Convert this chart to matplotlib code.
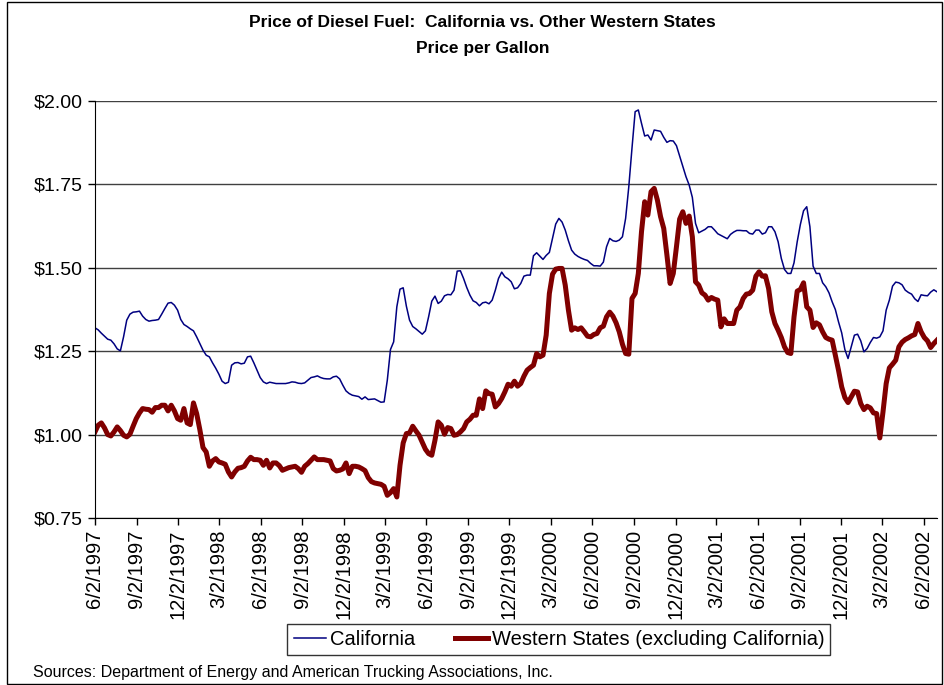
import pandas as pd
import matplotlib
matplotlib.use("Agg")
from matplotlib import pyplot as plt
from matplotlib.patches import Rectangle

plt.rcParams["font.family"] = ["Liberation Sans", "DejaVu Sans"]

# weekly prices, first week 6/2/1997
start_date = "1997-06-02"

california = [
    1.320, 1.314, 1.304, 1.295, 1.286, 1.283, 1.272, 1.257, 1.251, 1.293,
    1.343, 1.361, 1.367, 1.368, 1.370, 1.355, 1.345, 1.340, 1.342, 1.343,
    1.345, 1.361, 1.378, 1.394, 1.396, 1.388, 1.373, 1.345, 1.330, 1.324,
    1.317, 1.311, 1.293, 1.273, 1.253, 1.238, 1.233, 1.215, 1.199, 1.181,
    1.160, 1.153, 1.157, 1.208, 1.215, 1.216, 1.212, 1.214, 1.233, 1.235,
    1.215, 1.193, 1.171, 1.158, 1.153, 1.157, 1.155, 1.153, 1.153, 1.153,
    1.153, 1.155, 1.158, 1.157, 1.154, 1.153, 1.155, 1.163, 1.171, 1.173,
    1.176, 1.171, 1.168, 1.167, 1.167, 1.173, 1.175, 1.167, 1.148, 1.131,
    1.123, 1.118, 1.116, 1.114, 1.106, 1.113, 1.105, 1.106, 1.107, 1.102,
    1.097, 1.098, 1.163, 1.255, 1.278, 1.383, 1.436, 1.440, 1.385, 1.343,
    1.324, 1.317, 1.309, 1.301, 1.311, 1.353, 1.400, 1.415, 1.393, 1.400,
    1.416, 1.420, 1.419, 1.433, 1.490, 1.491, 1.468, 1.441, 1.418, 1.401,
    1.396, 1.386, 1.395, 1.397, 1.392, 1.403, 1.433, 1.468, 1.487, 1.473,
    1.467, 1.458, 1.437, 1.440, 1.453, 1.475, 1.478, 1.478, 1.536, 1.545,
    1.535, 1.525, 1.537, 1.546, 1.588, 1.631, 1.648, 1.637, 1.613, 1.581,
    1.553, 1.541, 1.534, 1.529, 1.525, 1.522, 1.513, 1.506, 1.506, 1.505,
    1.517, 1.563, 1.588, 1.581, 1.579, 1.583, 1.593, 1.648, 1.743, 1.858,
    1.968, 1.973, 1.933, 1.895, 1.898, 1.883, 1.913, 1.911, 1.909, 1.891,
    1.876, 1.881, 1.880, 1.866, 1.835, 1.805, 1.773, 1.748, 1.711, 1.633,
    1.605, 1.610, 1.615, 1.623, 1.623, 1.613, 1.602, 1.597, 1.592, 1.587,
    1.600, 1.607, 1.612, 1.612, 1.611, 1.611, 1.603, 1.601, 1.613, 1.613,
    1.601, 1.605, 1.623, 1.623, 1.608, 1.578, 1.528, 1.495, 1.483, 1.483,
    1.515, 1.578, 1.630, 1.671, 1.683, 1.623, 1.505, 1.483, 1.483, 1.455,
    1.443, 1.425, 1.398, 1.375, 1.338, 1.305, 1.255, 1.228, 1.263, 1.298,
    1.301, 1.281, 1.248, 1.258, 1.276, 1.291, 1.289, 1.293, 1.311, 1.373,
    1.403, 1.445, 1.457, 1.455, 1.449, 1.433, 1.426, 1.421, 1.407, 1.399,
    1.419, 1.417, 1.416, 1.427, 1.434, 1.428,
]

western = [
    1.008, 1.028, 1.035, 1.020, 1.000, 0.996, 1.008, 1.023, 1.012, 0.998,
    0.993, 1.001, 1.025, 1.048, 1.065, 1.078, 1.076, 1.075, 1.067, 1.081,
    1.081, 1.088, 1.088, 1.071, 1.088, 1.071, 1.048, 1.043, 1.078, 1.035,
    1.030, 1.095, 1.063, 1.015, 0.961, 0.948, 0.905, 0.921, 0.928, 0.918,
    0.915, 0.911, 0.888, 0.873, 0.888, 0.899, 0.901, 0.905, 0.921, 0.932,
    0.925, 0.925, 0.923, 0.908, 0.923, 0.900, 0.915, 0.915, 0.907, 0.893,
    0.897, 0.901, 0.903, 0.905, 0.898, 0.887, 0.905, 0.913, 0.923, 0.933,
    0.925, 0.925, 0.925, 0.923, 0.921, 0.898, 0.891, 0.893, 0.897, 0.915,
    0.883, 0.905, 0.905, 0.903, 0.898, 0.892, 0.871, 0.859, 0.855, 0.853,
    0.851, 0.845, 0.818, 0.826, 0.838, 0.813, 0.908, 0.975, 1.003, 1.005,
    1.025, 1.011, 0.998, 0.977, 0.956, 0.943, 0.938, 0.983, 1.038, 1.028,
    1.001, 1.021, 1.018, 0.998, 1.000, 1.008, 1.018, 1.038, 1.046, 1.058,
    1.058, 1.107, 1.078, 1.131, 1.123, 1.121, 1.083, 1.093, 1.108, 1.128,
    1.151, 1.145, 1.160, 1.145, 1.153, 1.175, 1.193, 1.201, 1.208, 1.243,
    1.233, 1.238, 1.298, 1.423, 1.481, 1.496, 1.498, 1.498, 1.448, 1.373,
    1.313, 1.320, 1.315, 1.320, 1.308, 1.295, 1.293, 1.300, 1.303, 1.320,
    1.325, 1.353, 1.367, 1.355, 1.335, 1.308, 1.271, 1.243, 1.241, 1.408,
    1.423, 1.483, 1.608, 1.698, 1.658, 1.728, 1.738, 1.703, 1.653, 1.618,
    1.538, 1.453, 1.483, 1.563, 1.646, 1.668, 1.633, 1.655, 1.593, 1.458,
    1.448, 1.425, 1.418, 1.403, 1.411, 1.406, 1.403, 1.323, 1.347, 1.333,
    1.333, 1.333, 1.373, 1.383, 1.408, 1.421, 1.423, 1.433, 1.475, 1.488,
    1.475, 1.476, 1.438, 1.368, 1.333, 1.313, 1.291, 1.263, 1.246, 1.243,
    1.353, 1.430, 1.435, 1.455, 1.383, 1.373, 1.321, 1.335, 1.329, 1.308,
    1.291, 1.286, 1.283, 1.238, 1.193, 1.143, 1.111, 1.096, 1.113, 1.130,
    1.128, 1.093, 1.075, 1.085, 1.080, 1.065, 1.063, 0.990, 1.068, 1.153,
    1.200, 1.211, 1.223, 1.263, 1.277, 1.285, 1.290, 1.296, 1.300, 1.333,
    1.308, 1.291, 1.281, 1.261, 1.273, 1.283,
]

y_ticks = [0.75, 1.00, 1.25, 1.50, 1.75, 2.00]

dates = pd.date_range(start_date, periods=len(california), freq="7D")
# ticks every 3 months on the 2nd: 6/2/1997 ... 6/2/2002
tick_dates = pd.date_range("1997-06-01", "2002-06-01", freq="3MS") + pd.Timedelta(days=1)
tick_labels = [f"{d.month}/{d.day}/{d.year}" for d in tick_dates]

fig = plt.figure(figsize=(9.44, 6.85), dpi=100)
ax = fig.add_axes([0.1006, 0.2438, 0.892, 0.6088])

ax.plot(dates, california, color="#000080", lw=1.1, label="California")
ax.plot(dates, western, color="#800000", lw=3.6, label="Western States (excluding California)")

ax.set_ylim(0.75, 2.00)
ax.set_yticks(y_ticks)
ax.set_yticklabels([f"${v:.2f}" for v in y_ticks], fontsize=14)
ax.set_xlim(dates[0], dates[-1])
ax.set_xticks(tick_dates)
ax.set_xticklabels(tick_labels, rotation=90, fontsize=14.5)
ax.yaxis.grid(True, color="#404040", lw=1)
ax.set_axisbelow(True)
for side in ["top", "right"]:
    ax.spines[side].set_visible(False)
ax.tick_params(direction="out", length=5, width=1, color="black")

fig.text(0.511, 0.967, "Price of Diesel Fuel:  California vs. Other Western States",
         ha="center", va="center", fontsize=12.5, fontweight="bold")
fig.text(0.511, 0.929, "Price per Gallon", ha="center", va="center",
         fontsize=12.5, fontweight="bold")
fig.text(0.035, 0.018, "Sources: Department of Energy and American Trucking Associations, Inc.",
         ha="left", va="center", fontsize=11.5)

leg = fig.legend(loc="center", bbox_to_anchor=(0.592, 0.066), ncol=2, fontsize=14.5,
                 frameon=True, fancybox=False, edgecolor="black", handlelength=1.6,
                 handletextpad=0.2, columnspacing=2.0, borderpad=0.3)
leg.get_frame().set_linewidth(1)

fig.patches.append(Rectangle((7 / 944, 1 / 685), 935 / 944, 682 / 685,
                             transform=fig.transFigure, fill=False, ec="black", lw=1))

plt.savefig("out.png", dpi=100)
